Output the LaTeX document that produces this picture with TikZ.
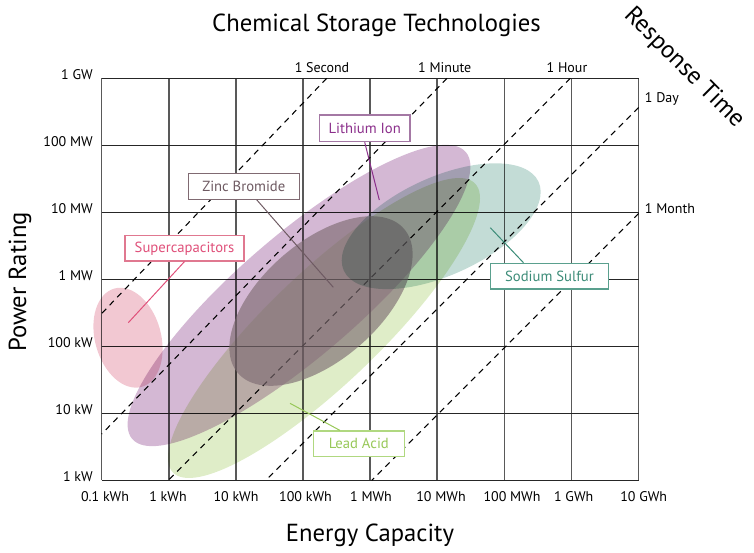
\documentclass[tikz,border=0pt]{standalone}
\usepackage{fontspec}
\setmainfont{PT Sans}
\usetikzlibrary{calc}
\definecolor{pinkF}{RGB}{242,200,210}
\definecolor{purpF}{RGB}{212,184,212}
\definecolor{greenF}{RGB}{223,237,200}
\definecolor{tealF}{RGB}{195,220,214}
\definecolor{zincF}{RGB}{126,108,114}
\definecolor{liT}{RGB}{139,47,139}
\definecolor{liB}{RGB}{164,120,164}
\definecolor{znT}{RGB}{110,90,98}
\definecolor{znB}{RGB}{128,106,114}
\definecolor{spT}{RGB}{224,80,122}
\definecolor{spB}{RGB}{224,120,144}
\definecolor{naT}{RGB}{60,140,120}
\definecolor{naB}{RGB}{90,160,142}
\definecolor{pbT}{RGB}{152,200,88}
\definecolor{pbB}{RGB}{176,216,128}
\begin{document}
\begin{tikzpicture}[x=0.75pt,y=-0.75pt,
  gridh/.style={line width=1.1pt,draw=black!85},
  gridv/.style={line width=1.1pt,draw=black!65},
  timeline/.style={draw=black,line width=0.8pt,dash pattern=on 4.5pt off 3.75pt},
  ticklbl/.style={font=\fontsize{10.5}{12}\selectfont,inner sep=0pt},
  axlbl/.style={font=\fontsize{18.5}{21}\selectfont,inner sep=0pt},
  labbox/.style={draw,fill=white,line width=0.9pt,inner sep=0pt,font=\fontsize{11}{13}\selectfont},
  leader/.style={line width=0.75pt},
  blob/.style={blend mode=multiply}]
\useasboundingbox (0,0) rectangle (754,553);
% grid
\foreach \i in {0,...,8} \draw[gridv] (101.7+67.1*\i,78.3) -- (101.7+67.1*\i,480.3);
\foreach \j in {0,...,6} \draw[gridh] (101.7,78.3+67*\j) -- (638.5,78.3+67*\j);
% response time lines
\coordinate (s1) at (326.7,78.3); \coordinate (s2) at (101.7,313.5);
\coordinate (m1) at (447,78.3);   \coordinate (m2) at (101.7,434);
\coordinate (h1) at (570.3,78.3); \coordinate (h2) at (168.3,480.3);
\coordinate (d1) at (638.5,107.5);\coordinate (d2) at (265.7,480.3);
\coordinate (o1) at (638.5,213.5);\coordinate (o2) at (371.7,480.3);
\draw[timeline] (s1) -- (s2);
\draw[timeline] (m1) -- (m2);
\draw[timeline] (h1) -- (h2);
\draw[timeline] (d1) -- (d2);
\draw[timeline] (o1) -- (o2);
% ellipses
\fill[greenF,blob,rotate around={43.7:(324,328)}] (324,328) ellipse [x radius=209,y radius=56];
\fill[purpF,blob,rotate around={40.7:(299,295.5)}] (299,295.5) ellipse [x radius=220,y radius=60.5];
\fill[zincF,opacity=0.65,rotate around={41:(321,301)}] (321,301) ellipse [x radius=110,y radius=59];
\fill[tealF,blob,rotate around={24.5:(441.2,226.2)}] (441.2,226.2) ellipse [x radius=107,y radius=49];
\fill[pinkF,blob,rotate around={15.5:(128,337.7)}] (128,337.7) ellipse [x radius=33,y radius=51];
% titles
\node[axlbl] (title) at (376.5,25) {Chemical Storage Technologies};
\node[axlbl,rotate=-45] (resp) at (684,68) {Response Time};
\node[axlbl,rotate=90] (pow) at (20,282) {Power Rating};
\node[axlbl] (en) at (370,535) {Energy Capacity};
% y tick labels
\node[ticklbl,anchor=east] (y0) at (93,74.3) {1 GW};
\node[ticklbl,anchor=east] (y1) at (93,141.3) {100 MW};
\node[ticklbl,anchor=east] (y2) at (93,208.3) {10 MW};
\node[ticklbl,anchor=east] (y3) at (93,275.3) {1 MW};
\node[ticklbl,anchor=east] (y4) at (93,342.3) {100 kW};
\node[ticklbl,anchor=east] (y5) at (93,409.3) {10 kW};
\node[ticklbl,anchor=east] (y6) at (93,476.3) {1 kW};
% x tick labels
\node[ticklbl] (x0) at (105,496.7) {0.1 kWh};
\node[ticklbl] (x1) at (168,496.7) {1 kWh};
\node[ticklbl] (x2) at (236,496.7) {10 kWh};
\node[ticklbl] (x3) at (305.5,496.7) {100 kWh};
\node[ticklbl] (x4) at (371,496.7) {1 MWh};
\node[ticklbl] (x5) at (441,496.7) {10 MWh};
\node[ticklbl] (x6) at (512,496.7) {100 MWh};
\node[ticklbl] (x7) at (573.7,496.7) {1 GWh};
\node[ticklbl] (x8) at (643.7,496.7) {10 GWh};
% time labels
\node[ticklbl] (tS) at (322,67.3) {1 Second};
\node[ticklbl] (tM) at (444.7,67.3) {1 Minute};
\node[ticklbl] (tH) at (567,67.3) {1 Hour};
\node[ticklbl,anchor=west] (tD) at (644.7,99.3) {1 Day};
\node[ticklbl,anchor=west] (tO) at (644.7,208.3) {1 Month};
% label boxes
\node[labbox,draw=liB,text=liT,minimum width=68pt,minimum height=20pt] (li) at (364.7,128.3) {Lithium Ion};
\node[labbox,draw=znB,text=znT,minimum width=83.25pt,minimum height=19.5pt] (zn) at (243.8,186.3) {Zinc Bromide};
\node[labbox,draw=spB,text=spT,minimum width=89.25pt,minimum height=19pt] (sp) at (184.5,248.3) {Supercapacitors};
\node[labbox,draw=naB,text=naT,minimum width=88.8pt,minimum height=19.3pt] (na) at (549.5,276.2) {Sodium Sulfur};
\node[labbox,draw=pbB,text=pbT,minimum width=68.25pt,minimum height=19.3pt] (pb) at (358.8,443.8) {Lead Acid};
% leaders
\coordinate (liE) at (379.3,200);
\coordinate (znE) at (333.3,287.3);
\coordinate (spE) at (128.3,322.7);
\coordinate (naE) at (490.3,227.7);
\coordinate (pbE) at (290,403.3);
\draw[leader,draw=liT] (li.south) -- (liE);
\draw[leader,draw=znT] ($(zn.south)+(13,0)$) -- (znE);
\draw[leader,draw=spT] (sp.south) -- (spE);
\draw[leader,draw=naT] ($(na.north)+(-26,0)$) -- (naE);
\draw[leader,draw=pbT] ($(pb.north)+(-19,0)$) -- (pbE);
\end{tikzpicture}
\end{document}
